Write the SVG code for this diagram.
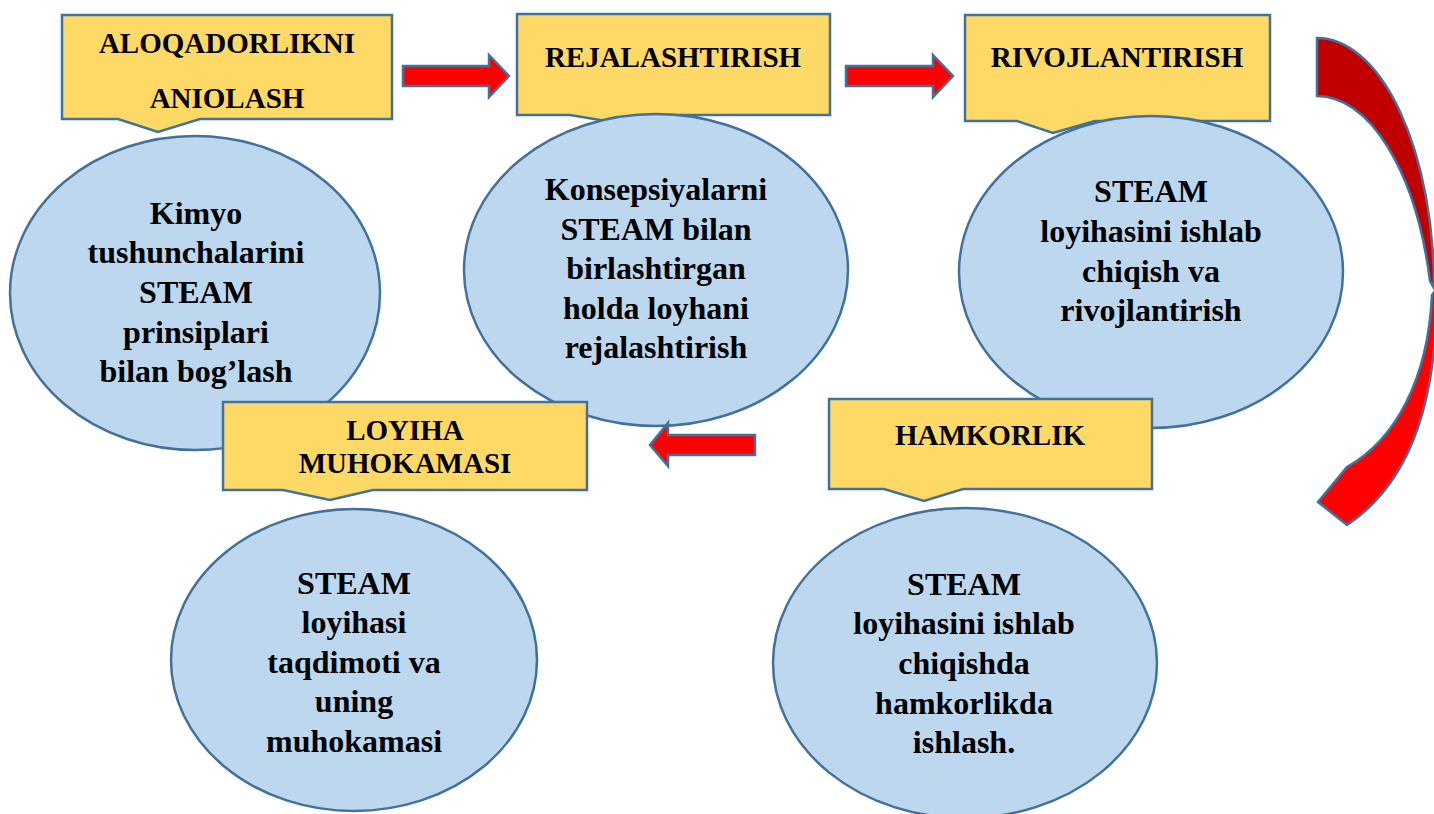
<svg xmlns="http://www.w3.org/2000/svg" width="1434" height="814" viewBox="0 0 1434 814">
<style>
.call{fill:#FFD966;stroke:#41719C;stroke-width:2.5;stroke-linejoin:miter}
.ell{fill:#BDD7EE;stroke:#41719C;stroke-width:2.5}
.arr{fill:#FF0000;stroke:#41719C;stroke-width:2.5;stroke-linejoin:miter}
.dark{fill:#C00000;stroke:#41719C;stroke-width:2.5}
.h{font-family:"Liberation Serif","Times New Roman",serif;font-weight:bold;font-size:29px;fill:#000;text-anchor:middle}
.b{font-family:"Liberation Serif","Times New Roman",serif;font-weight:bold;font-size:32px;fill:#000;text-anchor:middle}
</style>
<rect width="1434" height="814" fill="#FFFFFF"/>

<g id="callout-aloqadorlik">
<path class="call" d="M62,15 H392 V119 H200 L158,132 L118,119 H62 Z"/>
<text class="h" x="227" y="53">ALOQADORLIKNI</text>
<text class="h" x="227" y="108">ANIOLASH</text>
</g>
<g id="callout-rejalashtirish">
<path class="call" d="M517,14 H830 V115 H650 L612,122 L570,115 H517 Z"/>
<text class="h" x="673" y="67">REJALASHTIRISH</text>
</g>
<g id="callout-rivojlantirish">
<path class="call" d="M965,15 H1270 V121 H1095 L1053,133 L1017,121 H965 Z"/>
<text class="h" x="1117" y="67">RIVOJLANTIRISH</text>
</g>

<g id="node-kimyo">
<ellipse class="ell" cx="195" cy="293" rx="185" ry="157"/>
<text class="b" x="196" y="224">Kimyo</text>
<text class="b" x="196" y="263">tushunchalarini</text>
<text class="b" x="196" y="303">STEAM</text>
<text class="b" x="196" y="343">prinsiplari</text>
<text class="b" x="196" y="382">bilan bog’lash</text>
</g>
<g id="node-konsepsiya">
<ellipse class="ell" cx="656" cy="270" rx="192" ry="156"/>
<text class="b" x="656" y="200">Konsepsiyalarni</text>
<text class="b" x="656" y="240">STEAM bilan</text>
<text class="b" x="656" y="279">birlashtirgan</text>
<text class="b" x="656" y="319">holda loyhani</text>
<text class="b" x="656" y="358">rejalashtirish</text>
</g>
<g id="node-rivoj">
<ellipse class="ell" cx="1151" cy="272" rx="192" ry="156"/>
<text class="b" x="1151" y="202">STEAM</text>
<text class="b" x="1151" y="242">loyihasini ishlab</text>
<text class="b" x="1151" y="282">chiqish va</text>
<text class="b" x="1151" y="321">rivojlantirish</text>
</g>

<g id="callout-loyiha">
<path class="call" d="M223,402 H587 V490 H373 L330,500 L283,490 H223 Z"/>
<text class="h" x="405" y="440">LOYIHA</text>
<text class="h" x="405" y="473">MUHOKAMASI</text>
</g>
<g id="callout-hamkorlik">
<path class="call" d="M829,399 H1152 V489 H963 L924,501 L884,489 H829 Z"/>
<text class="h" x="990" y="445">HAMKORLIK</text>
</g>

<g id="node-taqdimot">
<ellipse class="ell" cx="354" cy="660" rx="183" ry="151"/>
<text class="b" x="354" y="594">STEAM</text>
<text class="b" x="354" y="633">loyihasi</text>
<text class="b" x="354" y="673">taqdimoti va</text>
<text class="b" x="354" y="712">uning</text>
<text class="b" x="354" y="752">muhokamasi</text>
</g>
<g id="node-hamkor">
<ellipse class="ell" cx="965" cy="663" rx="192" ry="155"/>
<text class="b" x="964" y="595">STEAM</text>
<text class="b" x="964" y="634">loyihasini ishlab</text>
<text class="b" x="964" y="674">chiqishda</text>
<text class="b" x="964" y="714">hamkorlikda</text>
<text class="b" x="964" y="753">ishlash.</text>
</g>

<g id="connectors">
<path class="arr" d="M403,66 H489 V55 L509,76 L489,97 V86 H403 Z"/>
<path class="arr" d="M846,66 H933 V55 L953,76 L933,97 V86 H846 Z"/>
<path class="arr" d="M755,435 H668 V423 L650,445 L668,466 V455 H755 Z"/>
<path class="dark" d="M1317,38 A117,250 0 0 1 1434,288 L1430,281 A117,250 0 0 0 1317,96 Z"/>
<path class="arr" d="M1436,290 C1438,390 1415,480 1347,525 L1318,502 L1347,467 C1395,440 1428,380 1432,295 Z"/>
</g>
</svg>
